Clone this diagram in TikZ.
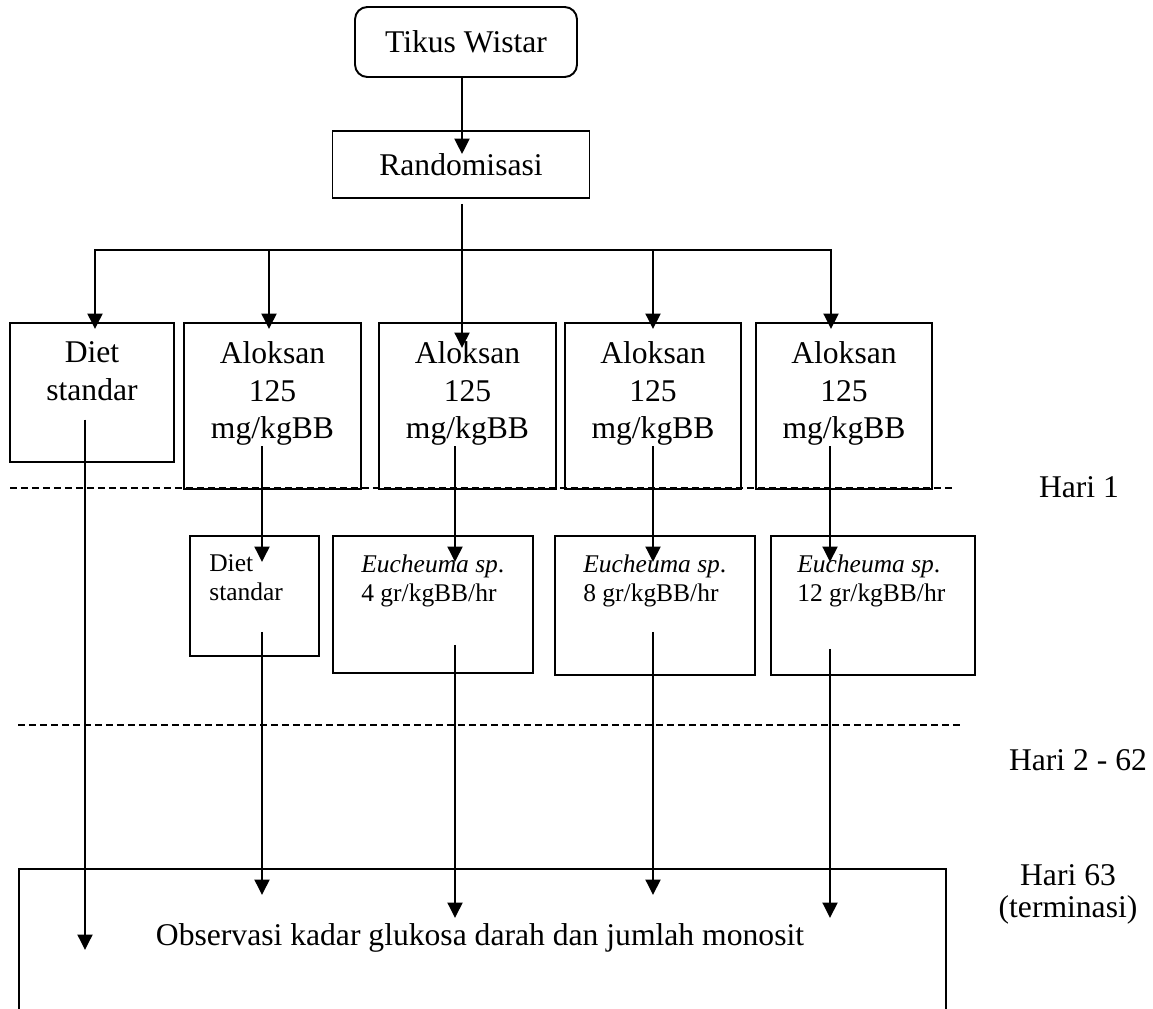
\documentclass[tikz,border=0pt]{standalone}
\usepackage{fontspec}
\setmainfont{Liberation Serif}
\usetikzlibrary{arrows.meta}
\newcommand\aloksan{Aloksan\\125\\mg/kgBB}
\tikzset{
  >={Triangle[length=3.1mm,width=3mm]},
  box/.style={draw,line width=1.1pt,inner sep=0pt},
  txt/.style={font=\fontsize{18}{21.5}\selectfont,align=center,inner sep=0pt},
  small/.style={font=\fontsize{14.5}{16.5}\selectfont,align=left,inner sep=0pt},
  day/.style={font=\fontsize{18}{18.2}\selectfont,align=center,inner sep=0pt},
  flow/.style={->,line width=1.1pt},
  link/.style={line width=1.1pt,line cap=rect},
  period/.style={line width=0.9pt,dash pattern=on 1.4mm off 0.8mm},
}

\begin{document}
\begin{tikzpicture}[x=0.02cm,y=-0.02cm]
  \useasboundingbox (0,0) rectangle (1153,1008);
  \clip (0,0) rectangle (1153,1008);

  % start
  \node[box,txt,rounded corners=7pt,minimum width=4.44cm,minimum height=1.4cm] (tikus) at (466,42) {Tikus Wistar};
  \node[box,txt,minimum width=5.14cm,minimum height=1.34cm] (random) at (461,164.5) {Randomisasi};

  % groups, day 1
  \foreach \txt/\x/\w/\h [count=\i] in {
    {Diet\\standar}/92/3.28/2.78,
    \aloksan/272.5/3.54/3.32,
    \aloksan/467.5/3.54/3.32,
    \aloksan/653/3.52/3.32,
    \aloksan/844/3.52/3.32}
  {
    \node[box,minimum width=\w cm,minimum height=\h cm,anchor=north] (b\i) at (\x,322) {};
    \node[txt,anchor=north] (t\i) at (\x,341) {\txt};
  }

  % treatment, day 2 - 62
  \foreach \txt/\x/\w/\h/\tx [count=\i from 2] in {
    {Diet\\standar}/254.5/2.58/2.4/209,
    {\textit{Eucheuma sp}.\\4 gr/kgBB/hr}/433/4/2.74/361,
    {\textit{Eucheuma sp}.\\8 gr/kgBB/hr}/655/4/2.78/583,
    {\textit{Eucheuma sp}.\\12 gr/kgBB/hr}/873/4.08/2.78/797}
  {
    \node[box,minimum width=\w cm,minimum height=\h cm,anchor=north] (s\i) at (\x,535) {};
    \node[small,anchor=north west] (st\i) at (\tx,554) {\txt};
  }

  % end, day 63
  \node[box,minimum width=18.54cm,minimum height=4cm,anchor=north west] (obs) at (18,868) {};
  \node[txt] (obstxt) at (480,937.6) {Observasi kadar glukosa darah dan jumlah monosit};

  % day labels
  \draw[period] (10,488) -- (955,488);
  \draw[period] (18,725) -- (963,725);
  \node[day] (h1) at (1079,487) {Hari 1};
  \node[day] (h2) at (1078,760) {Hari 2 - 62};
  \node[day,anchor=north] (h3) at (1068,864) {Hari 63\\(terminasi)};

  % connectors
  \foreach \i/\lx/\dx in {1/85/95,2/262/269,3/455/462,4/653/653,5/830/831}
  {
    \coordinate (c\i) at (\lx,0);
    \coordinate (d\i) at (\dx,250);
  }
  \draw[flow] (tikus.south -| d3) -- ([yshift=-0.48cm]random.north -| d3);
  \draw[flow] ([yshift=-0.1cm]random.south -| d3) -- ([yshift=-0.52cm]b3.north -| d3);
  \draw[link] (d1) -- (d5);
  \foreach \i in {1,2,4,5}
    \draw[flow] (d\i) -- ([yshift=-0.14cm]b\i.north -| d\i);
  \draw[flow] ([yshift=-0.38cm]t1.south -| c1) -- ([yshift=-1.64cm]obs.north -| c1);
  \foreach \i in {2,...,5}
    \draw[flow] (t\i.south -| c\i) -- ([yshift=-0.54cm]s\i.north -| c\i);
  \foreach \i/\up/\dn in {2/0.5/0.54,3/0.58/1.0,4/0.88/0.54,5/0.54/1.0}
    \draw[flow] ([yshift=\up cm]s\i.south -| c\i) -- ([yshift=-\dn cm]obs.north -| c\i);
\end{tikzpicture}
\end{document}
